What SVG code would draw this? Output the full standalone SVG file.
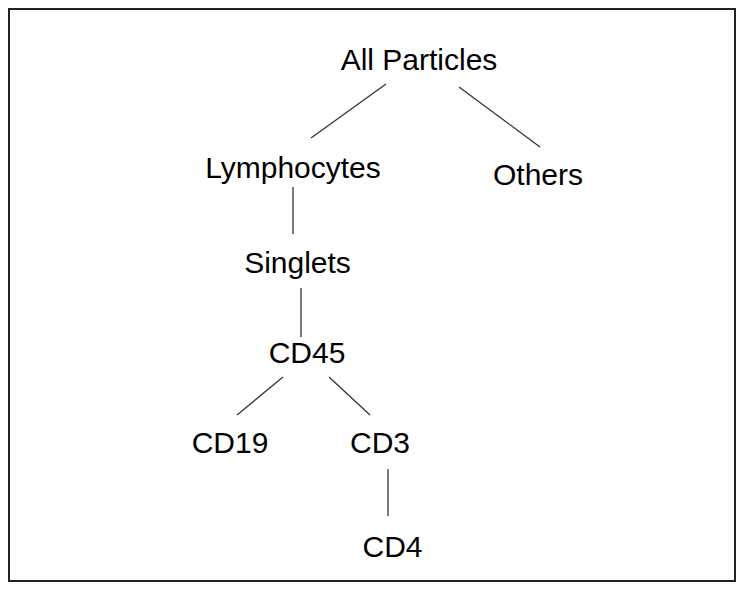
<svg xmlns="http://www.w3.org/2000/svg" width="744" height="591" viewBox="0 0 744 591">
<style>
.lbl{font-family:"Liberation Sans",Arial,sans-serif;font-size:30px;fill:#000;text-anchor:middle}
.edge{stroke:#333;stroke-width:1.3;fill:none}
</style>
<rect x="0" y="0" width="744" height="591" fill="#fff"/>
<rect x="9" y="9" width="726" height="572" fill="none" stroke="#222" stroke-width="2"/>
<g id="connectors">
<line class="edge" x1="386" y1="84" x2="311" y2="138"/>
<line class="edge" x1="459" y1="87" x2="540" y2="147"/>
<line class="edge" x1="293" y1="187" x2="293" y2="234"/>
<line class="edge" x1="301" y1="288" x2="301" y2="337"/>
<line class="edge" x1="283" y1="377" x2="237" y2="415"/>
<line class="edge" x1="329" y1="377" x2="370" y2="415"/>
<line class="edge" x1="388" y1="469" x2="388" y2="516"/>
</g>
<g id="all-particles"><text class="lbl" x="419" y="70">All Particles</text></g>
<g id="lymphocytes"><text class="lbl" x="293" y="178">Lymphocytes</text></g>
<g id="others"><text class="lbl" x="538" y="185">Others</text></g>
<g id="singlets"><text class="lbl" x="297.5" y="273">Singlets</text></g>
<g id="cd45"><text class="lbl" x="307" y="363">CD45</text></g>
<g id="cd19"><text class="lbl" x="230" y="453">CD19</text></g>
<g id="cd3"><text class="lbl" x="380" y="453">CD3</text></g>
<g id="cd4"><text class="lbl" x="392.5" y="557">CD4</text></g>
</svg>
